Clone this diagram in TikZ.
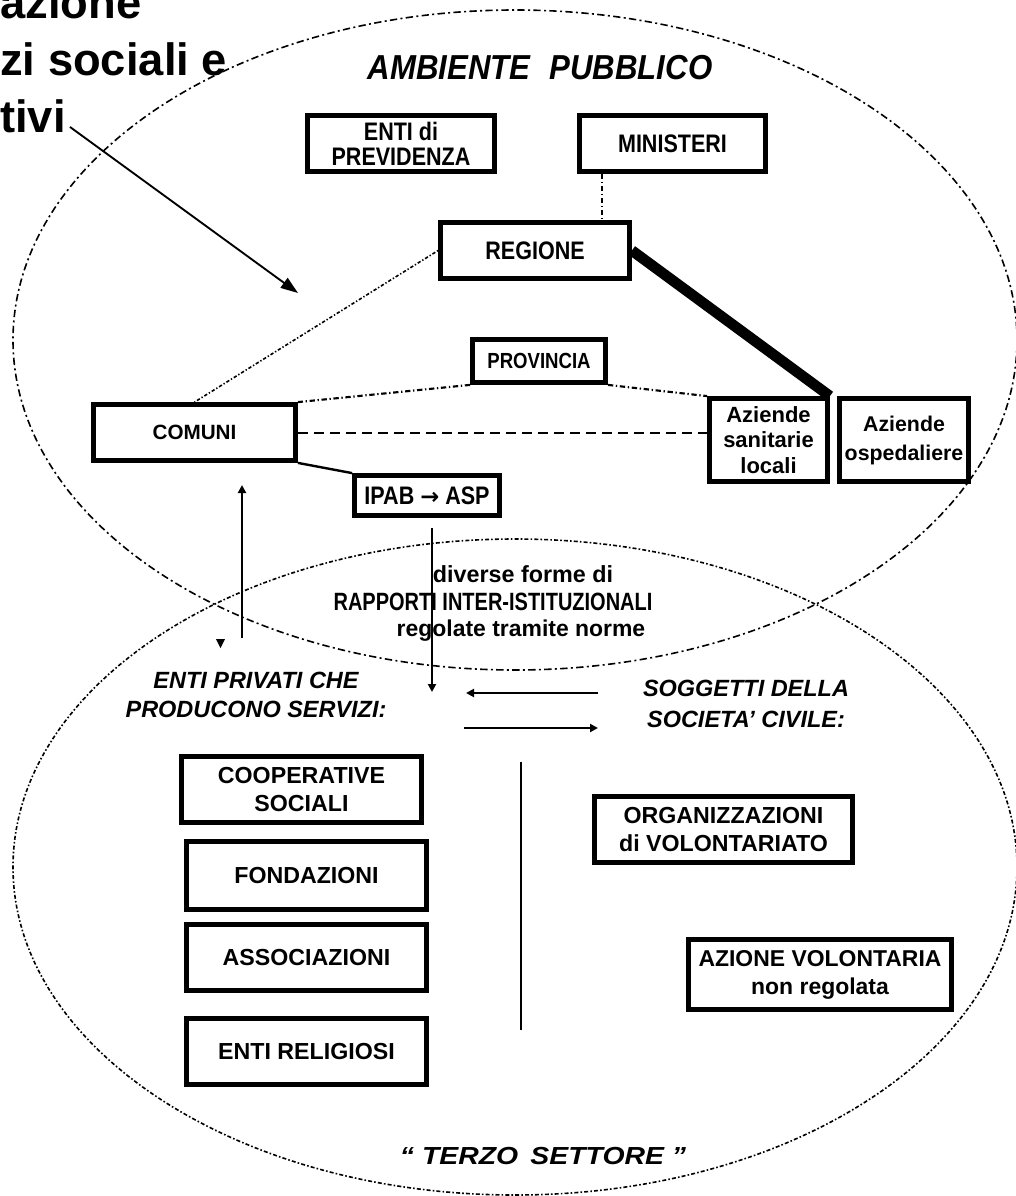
\documentclass[tikz,border=0pt]{standalone}
\usepackage{fontspec}
\setmainfont{Liberation Sans}
\newfontfamily\fcond[FakeStretch=0.85]{Liberation Sans}
\newfontfamily\fcondb[FakeStretch=0.8]{Liberation Sans}
\newfontfamily\famb[FakeStretch=0.9]{Liberation Sans}
\newfontfamily\fwide[FakeStretch=1.15]{Liberation Sans}
\newfontfamily\farrow{DejaVu Sans}
\usetikzlibrary{arrows.meta,calc}
\begin{document}
\begin{tikzpicture}[x=0.75pt,y=-0.75pt,
  box/.style={draw,line width=3.6pt,fill=white,inner sep=0pt,align=center},
  sz/.style 2 args={minimum width=#1*0.75pt,minimum height=#2*0.75pt},
  condtxt/.style={font=\fcond\bfseries\fontsize{19}{19}\selectfont},
  lowtxt/.style={font=\bfseries\fontsize{17.4}{21.5}\selectfont},
  italtxt/.style={font=\bfseries\itshape\fontsize{17.6}{22}\selectfont,align=center,inner sep=0pt},
  plaintxt/.style={inner sep=0pt},
  pubell/.style={line width=1.2pt,dash pattern=on 5.5pt off 2.5pt on 1.5pt off 2.5pt},
  terzoell/.style={line width=1.2pt,dash pattern=on 1.2pt off 1.6pt on 3pt off 1.6pt},
  dashdot/.style={line width=1.6pt,dash pattern=on 4pt off 2pt on 1pt off 2pt},
  dotdash/.style={line width=1.2pt,dash pattern=on 1pt off 1.5pt on 2.5pt off 1.5pt},
  dashline/.style={line width=1.5pt,dash pattern=on 7.5pt off 4.5pt},
  solidline/.style={line width=1.8pt},
  heavy/.style={line width=8pt},
  arr/.style={line width=1.8pt,-{Triangle[length=6pt,width=6pt]}},
  bigarr/.style={line width=1.4pt,-{Triangle[length=13pt,width=9pt]}}
]
\useasboundingbox (0,0) rectangle (1015,1196);

% ellipses
\draw[pubell] (515,340) ellipse [x radius=502, y radius=330];
\draw[terzoell] (515,867) ellipse [x radius=502, y radius=328];

% title text (cut by the left edge)
\begin{scope}[every node/.style={plaintxt,anchor=base west,font=\bfseries\fontsize{34}{40}\selectfont}]
\node (tA) at (0,18) {azione};
\node (tB) at (0,75) {zi sociali e};
\node (tC) at (0,132) {tivi};
\end{scope}

\node[plaintxt,anchor=base,font=\famb\bfseries\itshape\fontsize{26}{26}\selectfont] (amb) at (540,79) {AMBIENTE\hspace{0.55em}PUBBLICO};

% public boxes
\node[box,condtxt,sz={187}{56}] (prev) at (401,143.5) {ENTI di\\PREVIDENZA};
\node[box,condtxt,sz={186}{56}] (min) at (672.5,143.5) {MINISTERI};
\node[box,condtxt,sz={189}{56}] (reg) at (535,250.5) {REGIONE};
\node[box,sz={133}{43},font=\fcond\bfseries\fontsize{16.4}{16.4}\selectfont] (pro) at (539,361) {PROVINCIA};
\node[box,sz={202}{56},font=\bfseries\fontsize{15.5}{15.5}\selectfont] (com) at (194.5,432.5) {COMUNI};
\node[box,condtxt,sz={145}{40}] (ipab) at (427,495.5) {IPAB {\farrow\fontsize{17}{17}\selectfont →} ASP};
\node[box,sz={118}{83},font=\bfseries\fontsize{16.5}{19}\selectfont] (asl) at (768.5,440) {Aziende\\sanitarie\\locali};
\node[box,sz={129}{83},font=\bfseries\fontsize{16}{21.75}\selectfont] (aso) at (904,440) {Aziende\\ospedaliere};

% connectors (public)
\coordinate (mx) at (602,0);
\draw[dashdot] (min.south -| mx) -- (reg.north -| mx);
\draw[dotdash] (reg.west) -- (com.north);
\draw[heavy] (reg.east) -- (asl.north east);
\draw[dashdot] (pro.south west) -- (com.north east);
\draw[dashdot] (pro.south east) -- (asl.north west);
\draw[dashline] (com.east) -- (com.east -| asl.west);
\draw[solidline] (com.south east) -- (ipab.north west);

% arrow from title
\coordinate (tip) at (298,293);
\draw[bigarr] ($(tC.base east)+(4,-5)$) -- (tip);

% middle text
\node[plaintxt,anchor=base,font=\bfseries\fontsize{17.5}{17.5}\selectfont] (m1) at (523,582) {diverse forme di};
\node[plaintxt,anchor=base,font=\fcondb\bfseries\fontsize{18.75}{18.75}\selectfont] (m2) at (493,610) {RAPPORTI INTER-ISTITUZIONALI};
\node[plaintxt,anchor=base,font=\bfseries\fontsize{17.2}{17.2}\selectfont] (m3) at (521,636) {regolate tramite norme};

% arrows in the middle
\coordinate (upA) at (242,638);
\coordinate (upB) at (242,485);
\draw[arr] (upA) -- (upB);
\fill (216,639) -- (225,639) -- (220.5,648) -- cycle;
\coordinate (dnA) at (432,528);
\coordinate (dnB) at (432,692);
\draw[arr] (dnA) -- (dnB);
\coordinate (lA) at (598,693);
\coordinate (lB) at (466,693);
\draw[arr] (lA) -- (lB);
\coordinate (rA) at (464,728);
\coordinate (rB) at (598,728);
\draw[arr] (rA) -- (rB);

% third sector headings
\node[italtxt] (priv) at (256,695) {ENTI PRIVATI CHE\\PRODUCONO SERVIZI:};
\node[italtxt,font=\bfseries\itshape\fontsize{17.6}{23}\selectfont] (socc) at (746,704) {SOGGETTI DELLA\\SOCIETA’ CIVILE:};

% third sector boxes
\node[box,lowtxt,sz={240}{66}] (coop) at (301.5,789.5) {COOPERATIVE\\SOCIALI};
\node[box,lowtxt,sz={240}{68}] (fond) at (306.5,875.5) {FONDAZIONI};
\node[box,lowtxt,sz={240}{66}] (assoc) at (306.5,957.5) {ASSOCIAZIONI};
\node[box,lowtxt,sz={240}{66}] (relig) at (306.5,1051.5) {ENTI RELIGIOSI};
\node[box,lowtxt,sz={258}{66},font=\bfseries\fontsize{17.4}{21}\selectfont] (org) at (723.5,829.5) {ORGANIZZAZIONI\\di VOLONTARIATO};
\node[box,lowtxt,sz={263}{70},font=\bfseries\fontsize{17.2}{21}\selectfont] (azv) at (820,974.5) {AZIONE VOLONTARIA\\non regolata};

% divider
\coordinate (dv1) at (521,762);
\coordinate (dv2) at (521,1030);
\draw[line width=1.5pt] (dv1) -- (dv2);

\node[plaintxt,anchor=base,font=\fwide\bfseries\itshape\fontsize{18.5}{18.5}\selectfont] (terzo) at (543,1164) {“ TERZO\hspace{0.5em}SETTORE ”};
\end{tikzpicture}
\end{document}
